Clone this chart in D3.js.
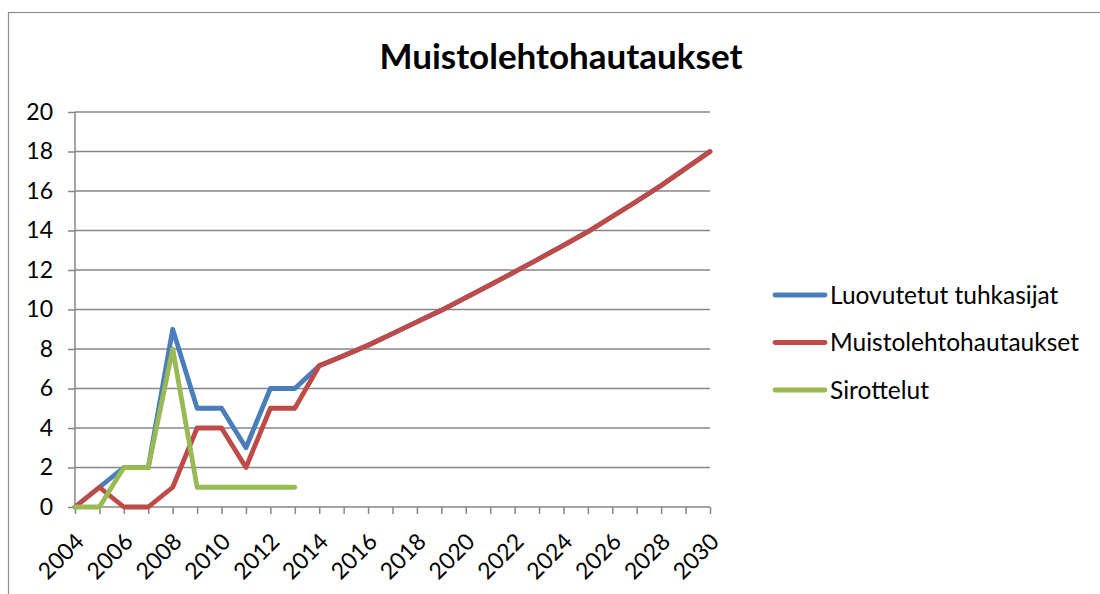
<!DOCTYPE html>
<html><head><meta charset="utf-8">
<script src="https://cdn.jsdelivr.net/npm/d3@7"></script>
<style>body{margin:0;background:#fff}svg{display:block}text{font-family:Lato,"Open Sans",sans-serif}</style>
</head><body><svg width="1100" height="594"></svg>
<script>
const years = d3.range(2004, 2031);
const tickLabels = [2004,2006,2008,2010,2012,2014,2016,2018,2020,2022,2024,2026,2028,2030];
const yTicks = [0,2,4,6,8,10,12,14,16,18,20];
const projection = [7.15,7.66,8.19,8.78,9.37,9.96,10.6,11.25,11.9,12.57,13.25,13.94,14.71,15.48,16.28,17.14,18.0];
const luovutetut = [0,1,2,2,9,5,5,3,6,6].concat(projection);
const muistolehto = [0,1,0,0,1,4,4,2,5,5].concat(projection);
const sirottelut = [0,0,2,2,8,1,1,1,1,1];
const seriesNames = ["Luovutetut tuhkasijat","Muistolehtohautaukset","Sirottelut"];
const seriesColors = ["#4a7ebb","#be4b48","#98b954"];
const seriesValues = [luovutetut, muistolehto, sirottelut];

const svg = d3.select("svg");
svg.append("rect").attr("x",8.5).attr("y",12.5).attr("width",1200).attr("height",700)
  .attr("fill","none").attr("stroke","#8c8c8c").attr("stroke-width",1.2);

const x = d3.scaleLinear().domain([2004,2030]).range([75,710]);
const y = d3.scaleLinear().domain([0,20]).range([507,112]);

svg.append("g").selectAll("line").data(yTicks.filter(d=>d>0)).join("line")
  .attr("x1",75).attr("x2",710).attr("y1",d=>y(d)).attr("y2",d=>y(d))
  .attr("stroke","#868686").attr("stroke-width",1.5);

const ya = svg.append("g").attr("transform","translate(75,0)")
  .call(d3.axisLeft(y).tickValues(yTicks).tickSize(7).tickPadding(15).tickFormat(d3.format("d")));
ya.select(".domain").attr("stroke","#868686").attr("stroke-width",1.5).attr("d","M0,112V507");
ya.selectAll(".tick line").attr("stroke","#868686").attr("stroke-width",1.5);
ya.selectAll("text").attr("font-size",23).attr("fill","#000").attr("font-family","Lato,sans-serif");

const xa = svg.append("g").attr("transform","translate(0,507)")
  .call(d3.axisBottom(x).tickValues(years).tickSize(7).tickFormat(d=>tickLabels.includes(d)?d:""));
xa.select(".domain").attr("stroke","#868686").attr("stroke-width",1.5).attr("d","M75,0H710");
xa.selectAll(".tick line").attr("stroke","#868686").attr("stroke-width",1.5);
xa.selectAll("text").attr("font-size",23).attr("fill","#000").attr("font-family","Lato,sans-serif")
  .attr("text-anchor","end").attr("dy",0).attr("y",0)
  .attr("transform","translate(10,36) rotate(-45)");

const line = d3.line().x((d,i)=>x(years[i])).y(d=>y(d));
svg.append("g").selectAll("path").data(seriesValues).join("path")
  .attr("d",line).attr("fill","none")
  .attr("stroke",(d,i)=>seriesColors[i]).attr("stroke-width",4.8)
  .attr("stroke-linejoin","round").attr("stroke-linecap","round");

svg.append("text").attr("x",561).attr("y",69).attr("text-anchor","middle")
  .attr("font-size",35).attr("font-weight","bold").attr("fill","#000").text("Muistolehtohautaukset");

const lg = svg.append("g").selectAll("g").data(seriesNames).join("g")
  .attr("transform",(d,i)=>`translate(0,${295+i*47.5})`);
lg.append("line").attr("x1",775).attr("x2",825).attr("y1",0).attr("y2",0)
  .attr("stroke",(d,i)=>seriesColors[i]).attr("stroke-width",4.8).attr("stroke-linecap","round");
lg.append("text").attr("x",830).attr("y",8.5).attr("font-size",24.5).attr("fill","#000").text(d=>d);
</script></body></html>
